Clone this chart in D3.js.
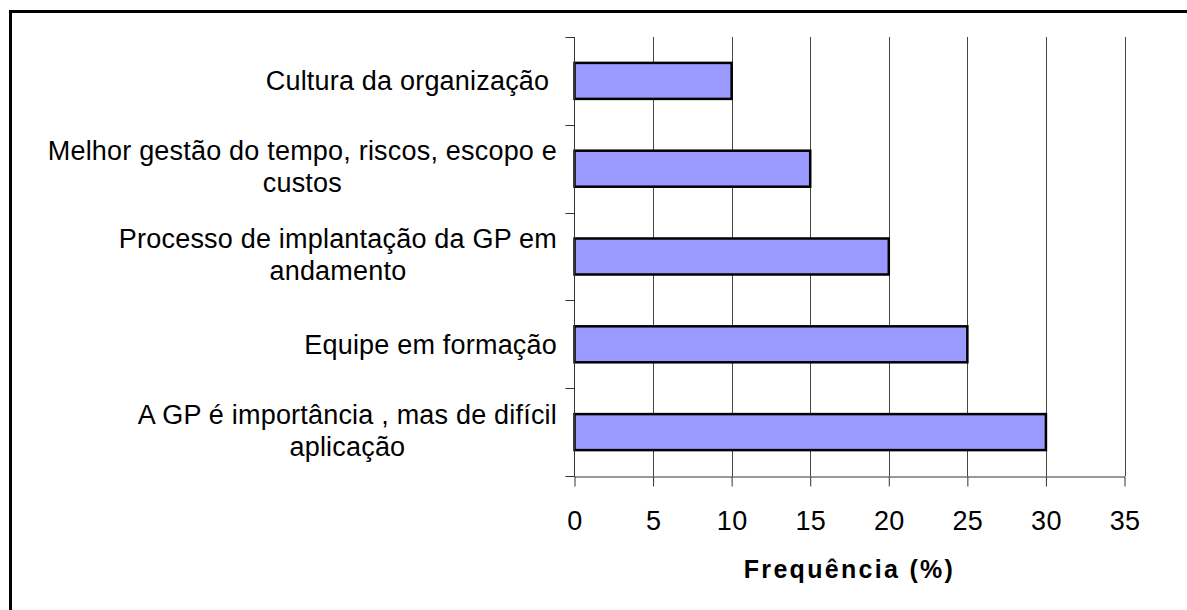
<!DOCTYPE html>
<html>
<head>
<meta charset="utf-8">
<script src="https://cdn.jsdelivr.net/npm/d3@7"></script>
<style>
  html, body { margin: 0; padding: 0; background: #fff; }
  svg { display: block; }
  text { font-family: "Liberation Sans", Arial, sans-serif; fill: #000; white-space: pre; }
</style>
</head>
<body>
<svg id="chart"></svg>
<script>
  // categories top to bottom, lines as they wrap in the original
  var categories = [
    ['Cultura da organização '],
    ['Melhor gestão do tempo, riscos, escopo e', 'custos'],
    ['Processo de implantação da GP em', 'andamento'],
    ['Equipe em formação'],
    ['A GP é importância , mas de difícil', 'aplicação']
  ];
  var values = [10, 15, 20, 25, 30];
  var xTicks = [0, 5, 10, 15, 20, 25, 30, 35];
  var xTitle = 'Frequência (%)';

(function () {
  'use strict';
  var width = 1187,
    height = 610;
  var plotLeft = 574.5, plotRight = 1124.5, plotTop = 37, plotBottom = 476;

  var svg = d3.select('#chart')
    .attr('width', width)
    .attr('height', height);

  // outer frame (only top and left edges are visible)
  svg.append('rect')
    .attr('x', 10.5).attr('y', 11.5)
    .attr('width', width + 20).attr('height', height + 20)
    .attr('fill', 'none')
    .attr('stroke', '#000')
    .attr('stroke-width', 3);

  var x = d3.scaleLinear()
    .domain([0, 35])
    .range([plotLeft, plotRight]);

  var y = d3.scaleBand()
    .domain(d3.range(categories.length))
    .range([plotTop, plotBottom])
    .paddingInner(0.59)
    .paddingOuter(0.295);

  // vertical gridlines
  svg.append('g')
    .selectAll('line')
    .data(xTicks.slice(1))
    .enter().append('line')
    .attr('x1', function (d) { return Math.round(x(d)) + 0.5; })
    .attr('x2', function (d) { return Math.round(x(d)) + 0.5; })
    .attr('y1', plotTop)
    .attr('y2', plotBottom)
    .attr('stroke', '#444')
    .attr('stroke-width', 1);

  // bars
  svg.append('g')
    .selectAll('rect')
    .data(values)
    .enter().append('rect')
    .attr('x', x(0))
    .attr('y', function (d, i) { return y(i); })
    .attr('width', function (d) { return x(d) - x(0); })
    .attr('height', y.bandwidth())
    .attr('fill', '#9999ff')
    .attr('stroke', '#000')
    .attr('stroke-width', 2.5);

  // x axis
  var xAxis = d3.axisBottom(x)
    .tickValues(xTicks)
    .tickSize(10)
    .tickPadding(24)
    .tickSizeOuter(0);

  var gx = svg.append('g')
    .attr('transform', 'translate(0,' + (plotBottom + 0.5) + ')')
    .call(xAxis);
  gx.select('.domain').attr('stroke', '#333');
  gx.selectAll('.tick line').attr('stroke', '#333');
  gx.selectAll('.tick text')
    .attr('font-family', '"Liberation Sans", Arial, sans-serif')
    .attr('font-size', 27)
    .attr('letter-spacing', 0.3);

  // y axis line and ticks at band boundaries
  svg.append('line')
    .attr('x1', plotLeft).attr('x2', plotLeft)
    .attr('y1', plotTop).attr('y2', plotBottom + 0.5)
    .attr('stroke', '#333');
  svg.append('g')
    .selectAll('line')
    .data(d3.range(categories.length + 1))
    .enter().append('line')
    .attr('x1', plotLeft - 9)
    .attr('x2', plotLeft)
    .attr('y1', function (i) { return Math.round(plotTop + i * y.step()) + 0.5; })
    .attr('y2', function (i) { return Math.round(plotTop + i * y.step()) + 0.5; })
    .attr('stroke', '#333');

  // category labels, wrapped lines centred on each other, block right aligned
  var labelRight = 557;
  var lineH = 32;
  var gl = svg.append('g')
    .attr('font-size', 27)
    .attr('letter-spacing', 0.2);
  categories.forEach(function (lines, i) {
    var cy = y(i) + y.bandwidth() / 2;
    var t = gl.append('text').attr('text-anchor', 'middle');
    var spans = t.selectAll('tspan')
      .data(lines)
      .enter().append('tspan')
      .text(function (d) { return d; });
    var maxW = 0;
    spans.each(function () { maxW = Math.max(maxW, this.getComputedTextLength()); });
    var cx = labelRight - maxW / 2;
    spans
      .attr('x', cx)
      .attr('y', function (d, j) {
        return cy + (j - (lines.length - 1) / 2) * lineH + (lines.length > 1 ? 7.5 : 9.5);
      });
  });

  // axis title
  svg.append('text')
    .attr('x', (plotLeft + plotRight) / 2)
    .attr('y', 578)
    .attr('text-anchor', 'middle')
    .attr('font-size', 25)
    .attr('font-weight', 'bold')
    .attr('letter-spacing', 2.3)
    .text(xTitle);
})();
</script>
</body>
</html>
